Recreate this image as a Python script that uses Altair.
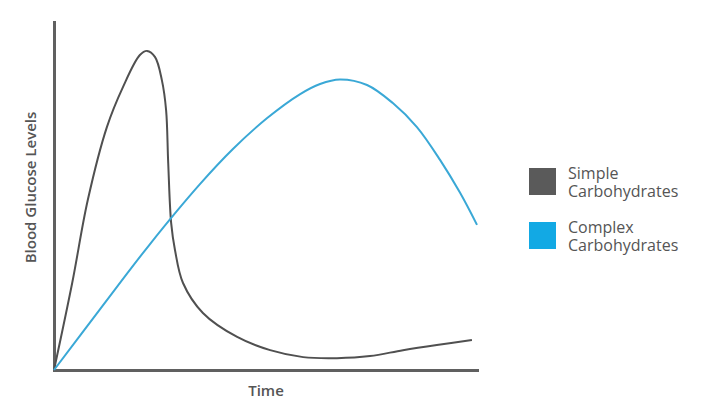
import altair as alt
import pandas as pd

series_names = ["Simple Carbohydrates", "Complex Carbohydrates"]

simple_t = [0, 4.3, 8.0, 12.5, 16.3, 20.3, 22.0, 23.9, 25.5, 26.5, 27.0, 27.7, 28.6,
            30.5, 35.2, 43.3, 51.1, 58.9, 66.9, 74.7, 82.5, 90.5, 98.8]
simple_g = [0, 25.0, 48.9, 69.8, 81.3, 90.5, 91.7, 89.9, 83.3, 74.7, 59.5, 42.2, 34.5,
            25.0, 16.4, 9.5, 5.7, 3.7, 3.4, 4.0, 5.7, 7.2, 8.6]

complex_t = [0, 10.9, 22.7, 34.5, 42.3, 50.4, 58.2, 62.9, 67.6, 74.0, 80.1, 85.8, 91.3, 96.0, 100]
complex_g = [0, 17.5, 36.2, 53.4, 63.5, 72.4, 79.3, 82.2, 83.5, 81.9, 76.7, 69.8, 60.3, 50.9, 41.7]

line_colors = ["#505050", "#3aa8d6"]
legend_colors = ["#5a5a5a", "#12a9e4"]

df = pd.concat([
    pd.DataFrame({"t": simple_t, "g": simple_g, "series": series_names[0]}),
    pd.DataFrame({"t": complex_t, "g": complex_g, "series": series_names[1]}),
], ignore_index=True)

FONT = "Open Sans"
TXT = "#555555"

x_enc = alt.X("t:Q", scale=alt.Scale(domain=[0, 100], nice=False),
              axis=alt.Axis(title="Time", ticks=False, labels=False, grid=False,
                            domainColor="#606060", domainWidth=3, domainCap="square",
                            titleFont=FONT, titleFontSize=15, titleFontWeight=600,
                            titleColor=TXT, titlePadding=13))
y_enc = alt.Y("g:Q", scale=alt.Scale(domain=[0, 100], nice=False),
              axis=alt.Axis(title="Blood Glucose Levels", ticks=False, labels=False, grid=False,
                            domainColor="#606060", domainWidth=3, domainCap="square",
                            titleFont=FONT, titleFontSize=15, titleFontWeight=600,
                            titleColor=TXT, titlePadding=16, titleY=165))

base = alt.Chart(df)

line_layers = [
    base.transform_filter(alt.datum.series == name)
        .mark_line(interpolate="catmull-rom", strokeWidth=2, color=col)
        .encode(x=x_enc, y=y_enc)
    for name, col in zip(series_names, line_colors)
]

legend_layer = base.mark_square(size=0).encode(
    x="t:Q", y="g:Q",
    fill=alt.Fill("series:N", scale=alt.Scale(domain=series_names, range=legend_colors),
                  legend=alt.Legend(title=None, orient="none", legendX=475, legendY=146,
                                    symbolType="square", symbolSize=729, symbolStrokeWidth=0,
                                    symbolOpacity=1, labelExpr="split(datum.label, ' ')",
                                    labelFont=FONT, labelFontSize=16, labelColor=TXT,
                                    labelBaseline="bottom",
                                    labelOffset=12, rowPadding=19, labelLimit=300)),
)

chart = alt.layer(*line_layers, legend_layer).properties(
    width=423, height=348,
    padding={"left": 46, "top": 14, "right": 225, "bottom": 35},
    autosize=alt.AutoSizeParams(type="none"),
).configure_view(stroke=None)

chart.save("out.html", embed_options={"renderer": "svg", "actions": False})
